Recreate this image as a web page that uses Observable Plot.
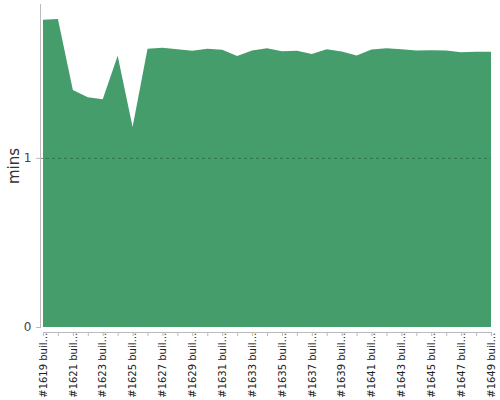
<!DOCTYPE html>
<html>
<head>
<meta charset="utf-8">
<script src="https://cdn.jsdelivr.net/npm/d3@7"></script>
<script src="https://cdn.jsdelivr.net/npm/@observablehq/plot@0.6"></script>
<style>
  html, body { margin: 0; padding: 0; background: #fff; }
  svg { font-family: "DejaVu Sans", sans-serif; }
</style>
</head>
<body>
<div id="chart"></div>
<script>
const builds = [
  "#1619 build","#1620 build","#1621 build","#1622 build","#1623 build","#1624 build",
  "#1625 build","#1626 build","#1627 build","#1628 build","#1629 build","#1630 build",
  "#1631 build","#1632 build","#1633 build","#1634 build","#1635 build","#1636 build",
  "#1637 build","#1638 build","#1639 build","#1640 build","#1641 build","#1642 build",
  "#1643 build","#1644 build","#1645 build","#1646 build","#1647 build","#1648 build",
  "#1649 build"
];
const mins = [
  1.817, 1.822, 1.402, 1.359, 1.347, 1.604, 1.182, 1.645, 1.651, 1.643,
  1.633, 1.645, 1.639, 1.602, 1.635, 1.649, 1.631, 1.633, 1.614, 1.643,
  1.629, 1.605, 1.641, 1.649, 1.643, 1.635, 1.637, 1.635, 1.625, 1.627,
  1.627
];
const yTicks = [0, 1];

const idx = builds.map((d, i) => i);
const labeledIdx = idx.filter(i => i % 2 === 0);
const data = builds.map((b, i) => ({i, build: b, mins: mins[i]}));
const truncate = i => builds[i].slice(0, 10) + "\u2026";

const chart = Plot.plot({
  width: 500,
  height: 400,
  marginLeft: 40,
  marginRight: 9,
  marginTop: 4,
  marginBottom: 73,
  x: {type: "linear", domain: [0, builds.length - 1], insetLeft: 3},
  y: {domain: [0, 1.91]},
  marks: [
    Plot.areaY(data, {x: "i", y: "mins", fill: "#449d6b"}),
    Plot.gridY([1], {stroke: "#1f5e3a", strokeOpacity: 0.6, strokeDasharray: "3,3"}),
    Plot.frame({anchor: "left", stroke: "#bbb"}),
    Plot.ruleY([0], {x1: 0, x2: builds.length - 1, stroke: "#bbb", dy: 5}),
    Plot.axisY({ticks: yTicks, tickSize: 4, tickPadding: 5, fontSize: 12, color: "#444", stroke: "#bbb", label: null, tickFormat: d3.format("d")}),
    Plot.axisY({ticks: [], tickSize: 0, fontSize: 15, fill: "#333", label: "mins", labelArrow: "none", labelAnchor: "center", labelOffset: 32}),
    Plot.axisX({ticks: idx, tickSize: 4, tickFormat: () => "", stroke: "#bbb", dy: 5, label: null}),
    Plot.axisX({ticks: labeledIdx, tickSize: 0, tickPadding: 5, tickRotate: -90, tickFormat: truncate, fontSize: 10, fill: "#222", label: null})
  ]
});
document.getElementById("chart").appendChild(chart);
</script>
</body>
</html>
